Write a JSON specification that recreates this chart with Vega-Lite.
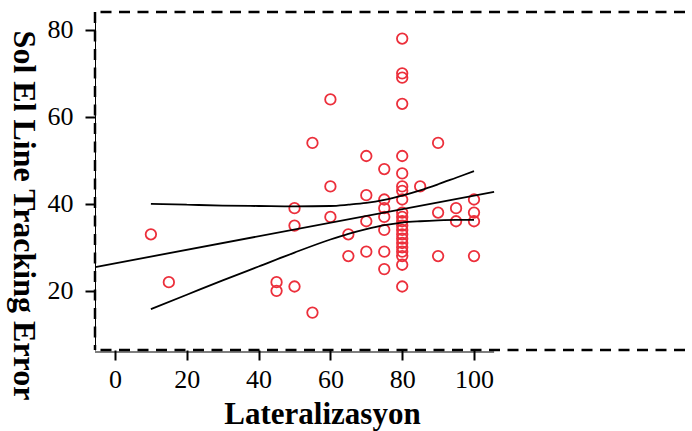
{
  "$schema": "https://vega.github.io/schema/vega-lite/v6.json",
  "width": 590,
  "height": 338,
  "autosize": {"type": "none"},
  "padding": {"left": 95, "top": 12, "right": 7, "bottom": 81},
  "background": "white",
  "config": {"view": {"stroke": null}, "font": "Liberation Serif"},
  "datasets": {
    "points": [
      {"x": 10, "y": 33}, {"x": 15, "y": 22}, {"x": 45, "y": 22}, {"x": 45, "y": 20},
      {"x": 50, "y": 39}, {"x": 50, "y": 35}, {"x": 50, "y": 21}, {"x": 55, "y": 54},
      {"x": 55, "y": 15}, {"x": 60, "y": 64}, {"x": 60, "y": 44}, {"x": 60, "y": 37},
      {"x": 65, "y": 33}, {"x": 65, "y": 28}, {"x": 70, "y": 51}, {"x": 70, "y": 42},
      {"x": 70, "y": 36}, {"x": 70, "y": 29}, {"x": 75, "y": 48}, {"x": 75, "y": 41},
      {"x": 75, "y": 39}, {"x": 75, "y": 37}, {"x": 75, "y": 34}, {"x": 75, "y": 29},
      {"x": 75, "y": 25}, {"x": 80, "y": 78}, {"x": 80, "y": 70}, {"x": 80, "y": 69},
      {"x": 80, "y": 63}, {"x": 80, "y": 51}, {"x": 80, "y": 47}, {"x": 80, "y": 44},
      {"x": 80, "y": 43}, {"x": 80, "y": 41}, {"x": 80, "y": 38}, {"x": 80, "y": 37},
      {"x": 80, "y": 36}, {"x": 80, "y": 35}, {"x": 80, "y": 34}, {"x": 80, "y": 33},
      {"x": 80, "y": 32}, {"x": 80, "y": 31}, {"x": 80, "y": 30}, {"x": 80, "y": 29},
      {"x": 80, "y": 28}, {"x": 80, "y": 26}, {"x": 80, "y": 21}, {"x": 85, "y": 44},
      {"x": 90, "y": 54}, {"x": 90, "y": 38}, {"x": 90, "y": 28}, {"x": 95, "y": 39},
      {"x": 95, "y": 36}, {"x": 100, "y": 41}, {"x": 100, "y": 38}, {"x": 100, "y": 36},
      {"x": 100, "y": 28}
    ],
    "lines": [
      {"series": "fit", "x": -5.5, "y": 25.46},
      {"series": "fit", "x": 105.6, "y": 42.76},
      {"series": "upper", "x": 10, "y": 40.0},
      {"series": "upper", "x": 20, "y": 39.8},
      {"series": "upper", "x": 30, "y": 39.6},
      {"series": "upper", "x": 40, "y": 39.5},
      {"series": "upper", "x": 50, "y": 39.4},
      {"series": "upper", "x": 60, "y": 39.5},
      {"series": "upper", "x": 65, "y": 39.8},
      {"series": "upper", "x": 70, "y": 40.2},
      {"series": "upper", "x": 75, "y": 40.9},
      {"series": "upper", "x": 80, "y": 41.9},
      {"series": "upper", "x": 85, "y": 43.1},
      {"series": "upper", "x": 90, "y": 44.5},
      {"series": "upper", "x": 95, "y": 46.0},
      {"series": "upper", "x": 100, "y": 47.5},
      {"series": "lower", "x": 10, "y": 15.8},
      {"series": "lower", "x": 20, "y": 19.1},
      {"series": "lower", "x": 30, "y": 22.4},
      {"series": "lower", "x": 40, "y": 25.6},
      {"series": "lower", "x": 50, "y": 28.8},
      {"series": "lower", "x": 60, "y": 31.8},
      {"series": "lower", "x": 65, "y": 33.1},
      {"series": "lower", "x": 70, "y": 34.2},
      {"series": "lower", "x": 75, "y": 35.1},
      {"series": "lower", "x": 80, "y": 35.7},
      {"series": "lower", "x": 85, "y": 36.0},
      {"series": "lower", "x": 90, "y": 36.2},
      {"series": "lower", "x": 95, "y": 36.3},
      {"series": "lower", "x": 100, "y": 36.3}
    ],
    "frame": [{"edge": "frame"}]
  },
  "layer": [
    {
      "data": {"name": "frame"},
      "mark": {"type": "rule", "color": "black", "strokeWidth": 2.5, "strokeDash": [11, 7.5]},
      "encoding": {"y": {"datum": 84.1, "type": "quantitative"}}
    },
    {
      "data": {"name": "frame"},
      "mark": {"type": "rule", "color": "black", "strokeWidth": 2.5, "strokeDash": [11, 7.5]},
      "encoding": {"y": {"datum": 6.4, "type": "quantitative"}}
    },
    {
      "data": {"name": "frame"},
      "mark": {"type": "rule", "color": "black", "strokeWidth": 2.5, "strokeDash": [11, 7.5]},
      "encoding": {"x": {"datum": -5.57, "type": "quantitative"}}
    },
    {
      "data": {"name": "frame"},
      "mark": {"type": "rule", "color": "black", "strokeWidth": 1.2, "yOffset": 2},
      "encoding": {
        "x": {"datum": -5.57, "type": "quantitative"},
        "x2": {"datum": 105.6},
        "y": {"datum": 6.4, "type": "quantitative"}
      }
    },
    {
      "data": {"name": "points"},
      "mark": {"type": "point", "shape": "circle", "filled": false, "color": "#ec2f3b", "strokeWidth": 1.8, "size": 110, "opacity": 1},
      "encoding": {
        "x": {
          "field": "x", "type": "quantitative",
          "scale": {"domain": [-5.57, 158.77], "nice": false, "zero": false},
          "axis": {
            "values": [0, 20, 40, 60, 80, 100],
            "domain": false, "grid": false,
            "tickSize": 10, "tickWidth": 2, "tickColor": "black",
            "labelFont": "Liberation Serif", "labelFontSize": 26, "labelColor": "black", "labelPadding": 6,
            "labelFlush": false,
            "title": "Lateralizasyon",
            "titleFont": "Liberation Serif", "titleFontSize": 31, "titleFontWeight": "bold", "titleColor": "black",
            "titleX": 227, "titleY": 73, "titleBaseline": "alphabetic", "titleAnchor": "middle", "titleAlign": "center"
          }
        },
        "y": {
          "field": "y", "type": "quantitative",
          "scale": {"domain": [6.4, 84.1], "nice": false, "zero": false},
          "axis": {
            "values": [20, 40, 60, 80],
            "domain": true, "domainColor": "black", "domainWidth": 1,
            "grid": false,
            "tickSize": 10, "tickWidth": 2, "tickColor": "black",
            "labelFont": "Liberation Serif", "labelFontSize": 26, "labelColor": "black", "labelPadding": 12,
            "labelFlush": false,
            "title": "Sol El Line Tracking Error",
            "titleFont": "Liberation Serif", "titleFontSize": 32, "titleFontWeight": "bold", "titleColor": "black",
            "titleAngle": 90, "titleX": -72, "titleY": 203, "titleBaseline": "middle", "titleAlign": "center"
          }
        }
      }
    },
    {
      "data": {"name": "lines"},
      "mark": {"type": "line", "color": "black", "strokeWidth": 1.8, "interpolate": "monotone"},
      "encoding": {
        "x": {"field": "x", "type": "quantitative"},
        "y": {"field": "y", "type": "quantitative"},
        "detail": {"field": "series", "type": "nominal"}
      }
    }
  ]
}
